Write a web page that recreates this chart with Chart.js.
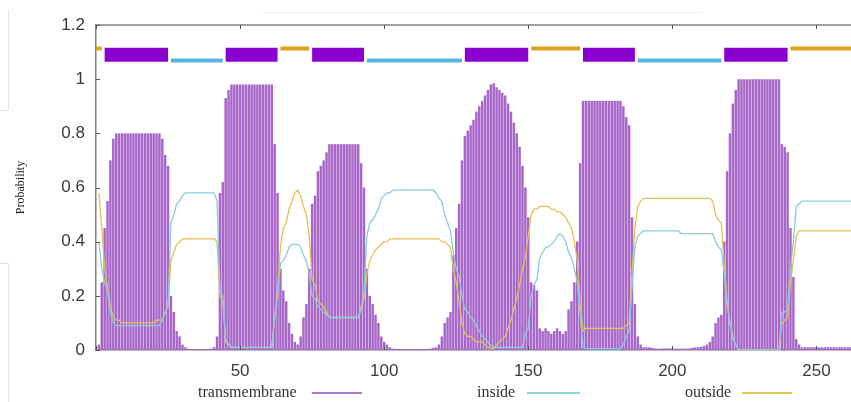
<!DOCTYPE html>
<html>
<head>
<meta charset="utf-8">
<script src="https://cdn.jsdelivr.net/npm/chart.js@4.4.1/dist/chart.umd.min.js"></script>
<style>
  body { margin: 0; background: #fff; }
  #wrap { position: relative; width: 851px; height: 402px; overflow: hidden; }
  .key { position: absolute; top: 383px; font: 16px "Liberation Serif", serif; color: #333; white-space: nowrap; }
  .sample { position: absolute; top: 392px; height: 2px; }
  .scrap { position: absolute; background: #e2e2e2; }
</style>
</head>
<body>
<div id="wrap">
  <canvas id="tmhmmChart" width="851" height="402"></canvas>
  <div class="scrap" style="left:8px;top:10px;width:1px;height:100px"></div>
  <div class="scrap" style="left:0;top:110px;width:8px;height:1px"></div>
  <div class="scrap" style="left:8px;top:263px;width:1px;height:139px"></div>
  <div class="scrap" style="left:0;top:263px;width:8px;height:1px"></div>
  <div class="scrap" style="left:262px;top:12px;width:440px;height:1px;background:#f0f0f0"></div>
  <span class="key" style="left:198px">transmembrane</span>
  <div class="sample" style="left:312px;width:50px;background:#b27bd2"></div>
  <span class="key" style="left:477px">inside</span>
  <div class="sample" style="left:527px;width:53px;background:#92d0e6"></div>
  <span class="key" style="left:685px">outside</span>
  <div class="sample" style="left:742px;width:50px;background:#e6c550"></div>
</div>
<script>
// posterior probabilities per residue (1..262)
const tmProb = [
  0.02, 0.25, 0.45, 0.55, 0.70, 0.78, 0.80, 0.80, 0.80, 0.80,
  0.80, 0.80, 0.80, 0.80, 0.80, 0.80, 0.80, 0.80, 0.80, 0.80,
  0.80, 0.80, 0.78, 0.72, 0.68, 0.20, 0.14, 0.07, 0.05, 0.02,
  0.01, 0.005, 0.003, 0.002, 0.002, 0.002, 0.002, 0.002, 0.003, 0.005,
  0.01, 0.05, 0.58, 0.62, 0.93, 0.96, 0.98, 0.98, 0.98, 0.98,
  0.98, 0.98, 0.98, 0.98, 0.98, 0.98, 0.98, 0.98, 0.98, 0.98,
  0.98, 0.76, 0.58, 0.30, 0.22, 0.18, 0.10, 0.06, 0.03, 0.02,
  0.05, 0.12, 0.17, 0.30, 0.54, 0.57, 0.66, 0.68, 0.70, 0.73,
  0.76, 0.76, 0.76, 0.76, 0.76, 0.76, 0.76, 0.76, 0.76, 0.76,
  0.76, 0.69, 0.60, 0.30, 0.20, 0.17, 0.13, 0.10, 0.05, 0.03,
  0.02, 0.01, 0.005, 0.004, 0.003, 0.003, 0.003, 0.003, 0.003, 0.003,
  0.003, 0.003, 0.003, 0.003, 0.004, 0.005, 0.008, 0.01, 0.02, 0.05,
  0.10, 0.12, 0.14, 0.35, 0.45, 0.54, 0.70, 0.79, 0.81, 0.83,
  0.85, 0.88, 0.90, 0.92, 0.94, 0.96, 0.98, 0.985, 0.97, 0.96,
  0.95, 0.94, 0.91, 0.88, 0.84, 0.80, 0.75, 0.68, 0.60, 0.49,
  0.25, 0.24, 0.22, 0.08, 0.07, 0.08, 0.07, 0.06, 0.07, 0.08,
  0.07, 0.06, 0.07, 0.15, 0.18, 0.25, 0.40, 0.69, 0.92, 0.92,
  0.92, 0.92, 0.92, 0.92, 0.92, 0.92, 0.92, 0.92, 0.92, 0.92,
  0.92, 0.92, 0.90, 0.86, 0.83, 0.49, 0.17, 0.05, 0.02, 0.01,
  0.01, 0.01, 0.008, 0.006, 0.005, 0.005, 0.006, 0.006, 0.006, 0.005,
  0.005, 0.005, 0.005, 0.005, 0.005, 0.006, 0.008, 0.01, 0.01, 0.012,
  0.015, 0.02, 0.03, 0.05, 0.10, 0.12, 0.13, 0.40, 0.66, 0.80,
  0.91, 0.96, 1.00, 1.00, 1.00, 1.00, 1.00, 1.00, 1.00, 1.00,
  1.00, 1.00, 1.00, 1.00, 1.00, 1.00, 1.00, 0.76, 0.75, 0.73,
  0.45, 0.27, 0.04, 0.02, 0.01, 0.01, 0.01, 0.01, 0.01, 0.01,
  0.01, 0.01, 0.01, 0.01, 0.01, 0.01, 0.01, 0.01, 0.01, 0.01,
  0.01, 0.01
];

const insideProb = [
  0.40, 0.30, 0.25, 0.22, 0.14, 0.10, 0.09, 0.09, 0.09, 0.09,
  0.09, 0.09, 0.09, 0.09, 0.09, 0.09, 0.09, 0.09, 0.09, 0.09,
  0.09, 0.09, 0.11, 0.14, 0.16, 0.47, 0.50, 0.54, 0.55, 0.57,
  0.58, 0.58, 0.58, 0.58, 0.58, 0.58, 0.58, 0.58, 0.58, 0.58,
  0.58, 0.55, 0.22, 0.20, 0.04, 0.02, 0.01, 0.01, 0.01, 0.01,
  0.01, 0.01, 0.01, 0.01, 0.01, 0.01, 0.01, 0.01, 0.01, 0.01,
  0.01, 0.12, 0.20, 0.32, 0.33, 0.35, 0.38, 0.39, 0.39, 0.39,
  0.38, 0.35, 0.33, 0.28, 0.20, 0.19, 0.16, 0.15, 0.14, 0.13,
  0.12, 0.12, 0.12, 0.12, 0.12, 0.12, 0.12, 0.12, 0.12, 0.12,
  0.12, 0.16, 0.21, 0.42, 0.47, 0.48, 0.50, 0.52, 0.56, 0.57,
  0.58, 0.58, 0.59, 0.59, 0.59, 0.59, 0.59, 0.59, 0.59, 0.59,
  0.59, 0.59, 0.59, 0.59, 0.59, 0.59, 0.59, 0.58, 0.56, 0.55,
  0.50, 0.47, 0.44, 0.36, 0.30, 0.27, 0.20, 0.15, 0.14, 0.12,
  0.11, 0.09, 0.07, 0.05, 0.04, 0.03, 0.015, 0.01, 0.01, 0.01,
  0.01, 0.01, 0.01, 0.01, 0.01, 0.01, 0.01, 0.01, 0.06, 0.08,
  0.20, 0.24, 0.26, 0.34, 0.36, 0.38, 0.38, 0.39, 0.40, 0.42,
  0.43, 0.42, 0.40, 0.36, 0.34, 0.30, 0.25, 0.13, 0.01, 0.005,
  0.005, 0.005, 0.005, 0.005, 0.005, 0.005, 0.005, 0.005, 0.005, 0.005,
  0.005, 0.005, 0.02, 0.05, 0.07, 0.23, 0.38, 0.42, 0.43, 0.44,
  0.44, 0.44, 0.44, 0.44, 0.44, 0.44, 0.44, 0.44, 0.44, 0.44,
  0.44, 0.44, 0.43, 0.43, 0.43, 0.43, 0.43, 0.43, 0.43, 0.43,
  0.43, 0.43, 0.43, 0.43, 0.40, 0.38, 0.37, 0.28, 0.16, 0.10,
  0.04, 0.02, 0.00, 0.00, 0.00, 0.00, 0.00, 0.00, 0.00, 0.00,
  0.00, 0.00, 0.00, 0.00, 0.00, 0.00, 0.00, 0.14, 0.14, 0.15,
  0.30, 0.40, 0.53, 0.54, 0.55, 0.55, 0.55, 0.55, 0.55, 0.55,
  0.55, 0.55, 0.55, 0.55, 0.55, 0.55, 0.55, 0.55, 0.55, 0.55,
  0.55, 0.55
];

const outsideProb = [
  0.58, 0.45, 0.30, 0.23, 0.16, 0.12, 0.11, 0.11, 0.10, 0.10,
  0.10, 0.10, 0.10, 0.10, 0.10, 0.10, 0.10, 0.10, 0.10, 0.10,
  0.11, 0.11, 0.11, 0.14, 0.16, 0.33, 0.36, 0.39, 0.40, 0.41,
  0.41, 0.41, 0.41, 0.41, 0.41, 0.41, 0.41, 0.41, 0.41, 0.41,
  0.41, 0.40, 0.20, 0.18, 0.03, 0.02, 0.01, 0.01, 0.01, 0.01,
  0.01, 0.01, 0.01, 0.01, 0.01, 0.01, 0.01, 0.01, 0.01, 0.01,
  0.01, 0.12, 0.22, 0.38, 0.45, 0.47, 0.52, 0.55, 0.58, 0.59,
  0.57, 0.53, 0.50, 0.42, 0.26, 0.24, 0.18, 0.17, 0.16, 0.14,
  0.12, 0.12, 0.12, 0.12, 0.12, 0.12, 0.12, 0.12, 0.12, 0.12,
  0.12, 0.15, 0.19, 0.28, 0.33, 0.35, 0.37, 0.38, 0.39, 0.40,
  0.40, 0.41, 0.41, 0.41, 0.41, 0.41, 0.41, 0.41, 0.41, 0.41,
  0.41, 0.41, 0.41, 0.41, 0.41, 0.41, 0.41, 0.41, 0.41, 0.40,
  0.40, 0.39, 0.38, 0.30, 0.25, 0.18, 0.10, 0.06, 0.05, 0.05,
  0.04, 0.03, 0.03, 0.03, 0.02, 0.01, 0.005, 0.005, 0.02, 0.03,
  0.04, 0.05, 0.08, 0.11, 0.15, 0.19, 0.24, 0.30, 0.34, 0.42,
  0.50, 0.52, 0.52, 0.53, 0.53, 0.53, 0.53, 0.52, 0.52, 0.51,
  0.51, 0.50, 0.49, 0.47, 0.45, 0.40, 0.33, 0.17, 0.07, 0.08,
  0.08, 0.08, 0.08, 0.08, 0.08, 0.08, 0.08, 0.08, 0.08, 0.08,
  0.08, 0.08, 0.08, 0.09, 0.10, 0.28, 0.45, 0.53, 0.55, 0.56,
  0.56, 0.56, 0.56, 0.56, 0.56, 0.56, 0.56, 0.56, 0.56, 0.56,
  0.56, 0.56, 0.56, 0.56, 0.56, 0.56, 0.56, 0.56, 0.56, 0.56,
  0.56, 0.56, 0.56, 0.55, 0.50, 0.48, 0.47, 0.32, 0.18, 0.10,
  0.05, 0.02, 0.00, 0.00, 0.00, 0.00, 0.00, 0.00, 0.00, 0.00,
  0.00, 0.00, 0.00, 0.00, 0.00, 0.00, 0.00, 0.10, 0.11, 0.12,
  0.25, 0.33, 0.42, 0.44, 0.44, 0.44, 0.44, 0.44, 0.44, 0.44,
  0.44, 0.44, 0.44, 0.44, 0.44, 0.44, 0.44, 0.44, 0.44, 0.44,
  0.44, 0.44
];

// predicted topology (first and last residue of each segment)
const tmSegments = [[3, 25], [45, 63], [75, 93], [128, 150], [169, 187], [218, 240]];
const insideSegments = [[26, 44], [94, 127], [188, 217]];
const outsideSegments = [[0, 2], [64, 74], [151, 168], [241, 262]];

const xTicks = [0, 50, 100, 150, 200, 250];
const xMax = 262;

const residues = tmProb.map((_, i) => i + 1);

function pointsOf(values) {
    return values.map((v, i) => ({ x: residues[i], y: v }));
}

// segments become one broken line at a fixed height above the curves
function segmentLine(segments, level) {
    const pts = [];
    segments.forEach(([s, e]) => {
        pts.push({ x: s, y: level }, { x: e, y: level }, { x: e, y: null });
    });
    return pts;
}

// gnuplot style frame: top border plus inward tick marks
const frameTicks = {
    id: 'frameTicks',
    afterDraw(chart) {
        const { ctx, chartArea: a, scales: { x, y } } = chart;
        ctx.save();
        ctx.strokeStyle = '#808080';
        ctx.lineWidth = 1.5;
        ctx.beginPath();
        ctx.moveTo(a.left, a.top);
        ctx.lineTo(a.right, a.top);
        ctx.stroke();
        ctx.lineWidth = 1;
        ctx.strokeStyle = '#555';
        ctx.beginPath();
        xTicks.forEach(t => {
            const px = Math.round(x.getPixelForValue(t)) + 0.5;
            ctx.moveTo(px, a.bottom); ctx.lineTo(px, a.bottom - 4);
            ctx.moveTo(px, a.top); ctx.lineTo(px, a.top + 4);
        });
        y.ticks.forEach(t => {
            const py = Math.round(y.getPixelForValue(t.value)) + 0.5;
            ctx.moveTo(a.left, py); ctx.lineTo(a.left + 4, py);
        });
        ctx.stroke();
        ctx.restore();
    }
};

const ctx = document.getElementById('tmhmmChart').getContext('2d');
new Chart(ctx, {
    type: 'bar',
    data: {
        datasets: [
            {
                type: 'line',
                label: 'TM segments',
                data: segmentLine(tmSegments, 1.09),
                borderColor: '#8a00cf',
                borderWidth: 14,
                borderCapStyle: 'butt',
                pointRadius: 0,
                spanGaps: false,
                order: 0
            },
            {
                type: 'line',
                label: 'inside segments',
                data: segmentLine(insideSegments, 1.069),
                borderColor: '#58b6e2',
                borderWidth: 4,
                borderCapStyle: 'butt',
                pointRadius: 0,
                spanGaps: false,
                order: 0
            },
            {
                type: 'line',
                label: 'outside segments',
                data: segmentLine(outsideSegments, 1.113),
                borderColor: '#e0a21c',
                borderWidth: 4,
                borderCapStyle: 'butt',
                pointRadius: 0,
                spanGaps: false,
                order: 0
            },
            {
                type: 'line',
                label: 'inside',
                data: pointsOf(insideProb),
                borderColor: '#88cbe2',
                borderWidth: 1.3,
                pointRadius: 0,
                order: 1
            },
            {
                type: 'line',
                label: 'outside',
                data: pointsOf(outsideProb),
                borderColor: '#e3c255',
                borderWidth: 1.3,
                pointRadius: 0,
                order: 1
            },
            {
                type: 'bar',
                label: 'transmembrane',
                data: pointsOf(tmProb),
                backgroundColor: '#a866c9',
                borderWidth: 0,
                barPercentage: 0.86,
                categoryPercentage: 1.0,
                order: 3
            }
        ]
    },
    options: {
        responsive: false,
        devicePixelRatio: 1,
        animation: false,
        layout: { padding: { left: 10, top: 25, right: 0, bottom: 0 } },
        scales: {
            x: {
                type: 'linear',
                min: 0,
                max: xMax,
                offset: false,
                afterFit: s => { s.height = 52; },
                afterBuildTicks: s => { s.ticks = xTicks.map(v => ({ value: v })); },
                grid: { display: false, drawTicks: false, offset: false },
                border: { display: true, color: '#808080', width: 1.5 },
                ticks: {
                    padding: 11,
                    color: '#3a3a3a',
                    font: { family: '"Liberation Sans", Arial, sans-serif', size: 17 },
                    callback: v => (v === 0 ? '' : v)
                }
            },
            y: {
                min: 0,
                max: 1.2,
                afterFit: s => { s.width = 86; },
                grid: { display: false, drawTicks: false },
                border: { display: true, color: '#808080', width: 1.5 },
                ticks: {
                    stepSize: 0.2,
                    padding: 11,
                    color: '#3a3a3a',
                    font: { family: '"Liberation Sans", Arial, sans-serif', size: 17 },
                    callback: v => String(Math.round(v * 10) / 10)
                },
                title: {
                    display: true,
                    text: 'Probability',
                    color: '#222',
                    font: { family: '"Liberation Serif", serif', size: 12 }
                }
            }
        },
        plugins: {
            legend: { display: false },
            tooltip: { enabled: false }
        }
    },
    plugins: [frameTicks]
});
</script>
</body>
</html>
